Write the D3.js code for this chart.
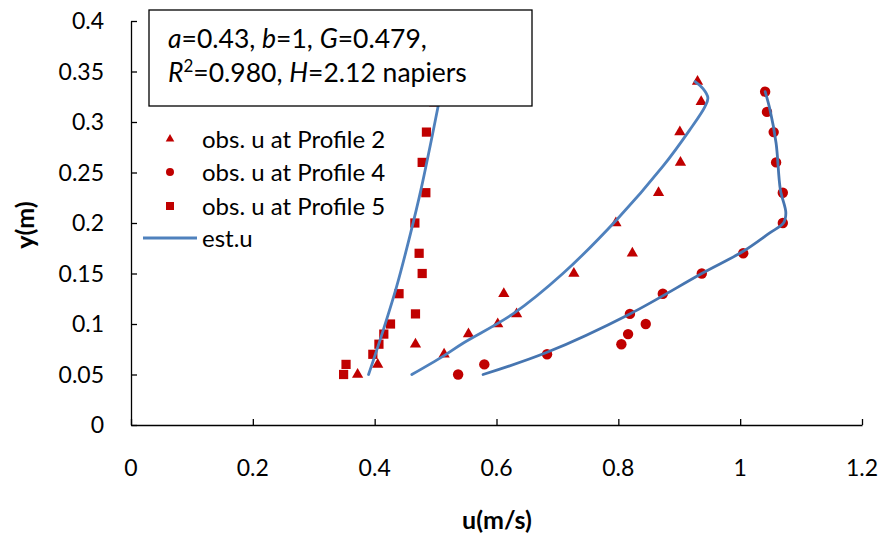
<!DOCTYPE html>
<html>
<head>
<meta charset="utf-8">
<script src="https://cdn.jsdelivr.net/npm/d3@7"></script>
<style>
  html, body { margin: 0; padding: 0; background: #fff; }
  svg text { font-family: Lato, "Open Sans", sans-serif; fill: #000; }
</style>
</head>
<body>
<svg id="chart" width="883" height="537"></svg>
<script>
// ---------- data ----------
const xTicks = [0, 0.2, 0.4, 0.6, 0.8, 1, 1.2];
const xTickLabels = ["0", "0.2", "0.4", "0.6", "0.8", "1", "1.2"];
const yTicks = [0, 0.05, 0.1, 0.15, 0.2, 0.25, 0.3, 0.35, 0.4];
const yTickLabels = ["0", "0.05", "0.1", "0.15", "0.2", "0.25", "0.3", "0.35", "0.4"];

// observed u (m/s) and y (m)
const p2_u = [0.372, 0.405, 0.514, 0.467, 0.554, 0.602, 0.633, 0.612, 0.727, 0.823, 0.796, 0.866, 0.902, 0.901, 0.936, 0.930];
const p2_y = [0.05, 0.06, 0.07, 0.08, 0.09, 0.10, 0.11, 0.13, 0.15, 0.17, 0.20, 0.23, 0.26, 0.29, 0.32, 0.34];

const p4_u = [0.537, 0.580, 0.683, 0.805, 0.816, 0.845, 0.819, 0.873, 0.937, 1.005, 1.070, 1.070, 1.059, 1.055, 1.044, 1.041];
const p4_y = [0.05, 0.06, 0.07, 0.08, 0.09, 0.10, 0.11, 0.13, 0.15, 0.17, 0.20, 0.23, 0.26, 0.29, 0.31, 0.33];

const p5_u = [0.349, 0.353, 0.397, 0.407, 0.415, 0.426, 0.467, 0.440, 0.478, 0.473, 0.466, 0.484, 0.478, 0.485, 0.497];
const p5_y = [0.05, 0.06, 0.07, 0.08, 0.09, 0.10, 0.11, 0.13, 0.15, 0.17, 0.20, 0.23, 0.26, 0.29, 0.32];

// estimated u curves
const est2_u = [0.461, 0.512, 0.545, 0.627, 0.709, 0.797, 0.873, 0.917, 0.942, 0.947, 0.939, 0.926];
const est2_y = [0.05, 0.068, 0.081, 0.11, 0.15, 0.203, 0.256, 0.292, 0.315, 0.324, 0.333, 0.34];

const est4_u = [0.578, 0.683, 0.819, 0.937, 1.005, 1.048, 1.071, 1.075, 1.066, 1.059, 1.049, 1.041];
const est4_y = [0.05, 0.072, 0.11, 0.15, 0.172, 0.19, 0.20, 0.21, 0.233, 0.279, 0.312, 0.33];

const est5_u = [0.390, 0.412, 0.436, 0.459, 0.476, 0.491, 0.504, 0.509];
const est5_y = [0.05, 0.09, 0.137, 0.19, 0.233, 0.276, 0.315, 0.33];

const legendLabels = ["obs. u at Profile 2", "obs. u at Profile 4", "obs. u at Profile 5", "est.u"];
const xTitle = "u(m/s)";
const yTitle = "y(m)";

// ---------- drawing ----------
const RED = "#C00000";
const BLUE = "#4F81BD";
const BLUE2 = "#4675B0";

const svg = d3.select("#chart");
const x = d3.scaleLinear().domain([0, 1.2]).range([131, 862]);
const y = d3.scaleLinear().domain([0, 0.4]).range([425, 21]);

const zip = (a, b) => a.map((v, i) => [v, b[i]]);

// axes
const yAxis = d3.axisLeft(y).tickValues(yTicks).tickSize(-6).tickFormat("").tickSizeOuter(0);
const xAxis = d3.axisBottom(x).tickValues(xTicks).tickSize(-6).tickFormat("").tickSizeOuter(0);

const gy = svg.append("g").attr("transform", `translate(${x(0)},0)`).call(yAxis);
const gx = svg.append("g").attr("transform", `translate(0,${y(0)})`).call(xAxis);
[gx, gy].forEach(g => {
  g.selectAll("path, line").attr("stroke", "#000").attr("stroke-width", 1.3);
});

// tick labels
svg.append("g").selectAll("text").data(yTicks).join("text")
  .attr("x", 104).attr("y", d => y(d)).attr("dy", "0.36em")
  .attr("text-anchor", "end").attr("font-size", 23)
  .text((d, i) => yTickLabels[i]);

svg.append("g").selectAll("text").data(xTicks).join("text")
  .attr("x", d => x(d)).attr("y", 468).attr("dy", "0.36em")
  .attr("text-anchor", "middle").attr("font-size", 23)
  .text((d, i) => xTickLabels[i]);

// axis titles
svg.append("text").attr("x", 497).attr("y", 520).attr("dy", "0.36em")
  .attr("text-anchor", "middle").attr("font-size", 25).attr("font-weight", "bold")
  .text(xTitle);
svg.append("text").attr("transform", "translate(25,225) rotate(-90)").attr("dy", "0.36em")
  .attr("text-anchor", "middle").attr("font-size", 25).attr("font-weight", "bold")
  .text(yTitle);

// markers
const tri = d3.symbol().type(d3.symbolTriangle).size(55);
const circ = d3.symbol().type(d3.symbolCircle).size(85);
const sq = d3.symbol().type(d3.symbolSquare).size(85);

svg.append("g").selectAll("path").data(zip(p2_u, p2_y)).join("path")
  .attr("d", tri).attr("transform", d => `translate(${x(d[0])},${y(d[1])})`).attr("fill", RED);
svg.append("g").selectAll("path").data(zip(p4_u, p4_y)).join("path")
  .attr("d", circ).attr("transform", d => `translate(${x(d[0])},${y(d[1])})`).attr("fill", RED);
svg.append("g").selectAll("path").data(zip(p5_u, p5_y)).join("path")
  .attr("d", sq).attr("transform", d => `translate(${x(d[0])},${y(d[1])})`).attr("fill", RED);

// lines
const line = d3.line().x(d => x(d[0])).y(d => y(d[1])).curve(d3.curveCatmullRom.alpha(0.5));
svg.append("path").attr("d", line(zip(est2_u, est2_y))).attr("fill", "none").attr("stroke", BLUE).attr("stroke-width", 2.8).attr("stroke-linecap", "round");
svg.append("path").attr("d", line(zip(est4_u, est4_y))).attr("fill", "none").attr("stroke", BLUE2).attr("stroke-width", 2.8).attr("stroke-linecap", "round");
svg.append("path").attr("d", line(zip(est5_u, est5_y))).attr("fill", "none").attr("stroke", BLUE).attr("stroke-width", 2.8).attr("stroke-linecap", "round");

// text box
svg.append("rect").attr("x", 149).attr("y", 10).attr("width", 383).attr("height", 96)
  .attr("fill", "#fff").attr("stroke", "#000").attr("stroke-width", 1.3);
const t1 = svg.append("text").attr("x", 168).attr("y", 48).attr("font-size", 26.5);
t1.append("tspan").attr("font-style", "italic").text("a");
t1.append("tspan").text("=0.43, ");
t1.append("tspan").attr("font-style", "italic").text("b");
t1.append("tspan").text("=1, ");
t1.append("tspan").attr("font-style", "italic").text("G");
t1.append("tspan").text("=0.479,");
const t2 = svg.append("text").attr("x", 168).attr("y", 82).attr("font-size", 26.5);
t2.append("tspan").attr("font-style", "italic").text("R");
t2.append("tspan").attr("font-size", 17).attr("dy", -10).text("2");
t2.append("tspan").attr("dy", 10).text("=0.980, ");
t2.append("tspan").attr("font-style", "italic").text("H");
t2.append("tspan").text("=2.12 napiers");

// legend
const legY = [139, 172, 206, 238];
const legSyms = [d3.symbol().type(d3.symbolTriangle).size(32), d3.symbol().type(d3.symbolCircle).size(50), d3.symbol().type(d3.symbolSquare).size(64)];
for (let i = 0; i < 3; i++) {
  svg.append("path").attr("d", legSyms[i]).attr("transform", `translate(170,${legY[i]})`).attr("fill", RED);
}
svg.append("line").attr("x1", 143).attr("x2", 197).attr("y1", legY[3]).attr("y2", legY[3])
  .attr("stroke", BLUE).attr("stroke-width", 2.8);
svg.append("g").selectAll("text").data(legendLabels).join("text")
  .attr("x", 202).attr("y", (d, i) => legY[i]).attr("dy", "0.36em").attr("font-size", 24)
  .text(d => d);
</script>
</body>
</html>
